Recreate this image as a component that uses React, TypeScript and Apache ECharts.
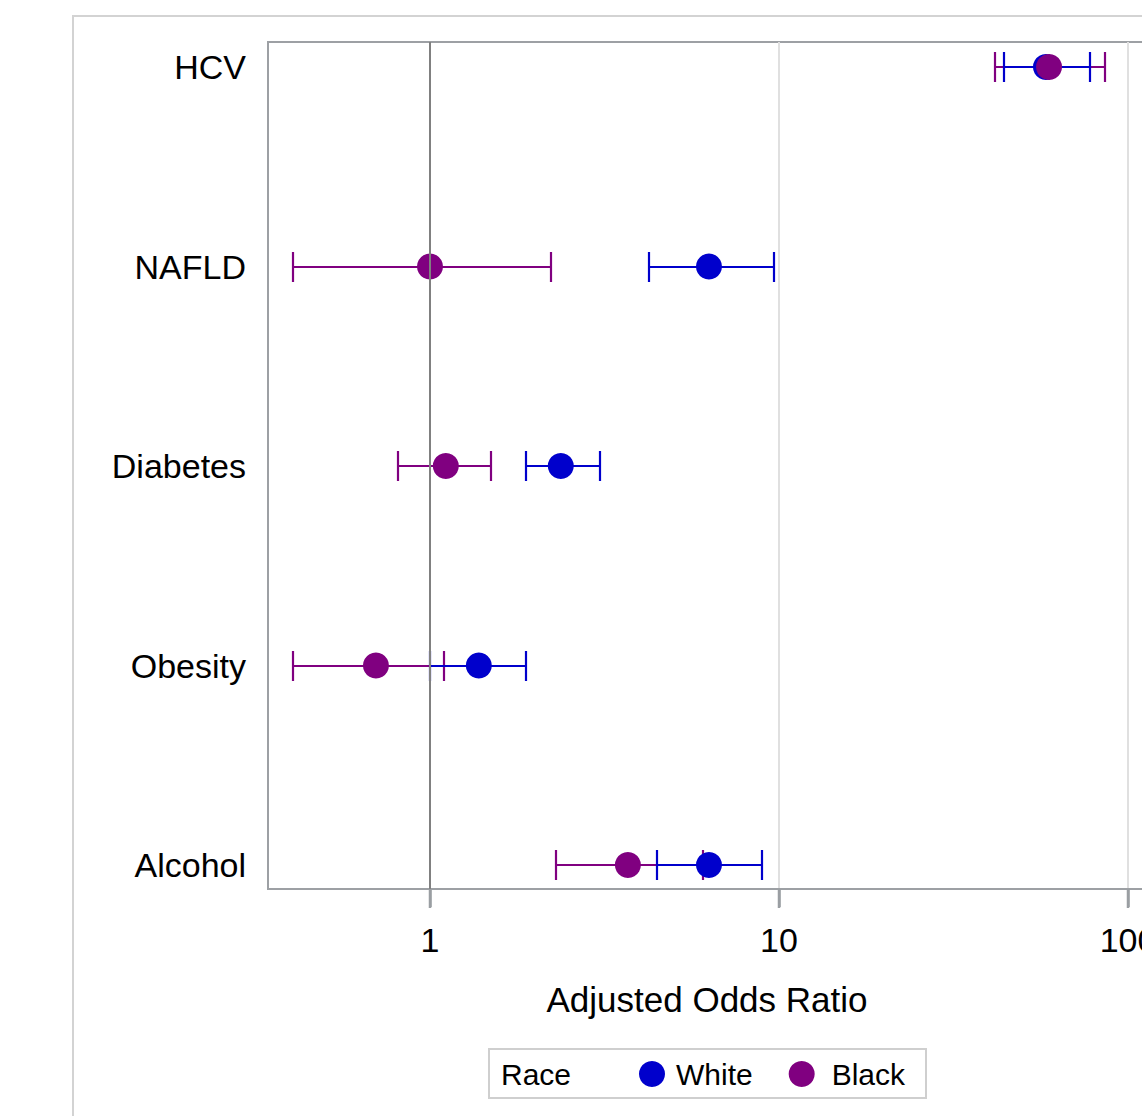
import React, { useEffect, useRef } from "react";
import * as echarts from "echarts";

const categories = ["HCV", "NAFLD", "Diabetes", "Obesity", "Alcohol"];
const whiteOR = [58.2, 6.3, 2.37, 1.38, 6.3];
const whiteLo = [44.1, 4.24, 1.88, 1.0, 4.47];
const whiteHi = [77.8, 9.68, 3.07, 1.88, 8.94];
const blackOR = [59.4, 1.0, 1.11, 0.7, 3.69];
const blackLo = [41.6, 0.405, 0.81, 0.405, 2.3];
const blackHi = [85.9, 2.22, 1.5, 1.1, 6.06];
const xTickValues = [1, 10, 100];
const seriesNames = ["White", "Black"];
const legendTitle = "Race";
const xTitle = "Adjusted Odds Ratio";

const FONT = "'Liberation Sans', Arial, sans-serif";
const BLUE = "#0000cc";
const PURPLE = "#800080";

export default function App() {
  const ref = useRef<HTMLDivElement>(null);
  useEffect(() => {
    if (!ref.current) return;
    const chart = echarts.init(ref.current, undefined, { renderer: "svg" });
    const L = Math.log10;
    const gridLeft = 268;
    const gridTop = 42;
    const gridBottomY = 889;
    const pxPerDecade = 349;
    const oneX = 430;
    const gridRightX = 1146;
    const xMin = (gridLeft - oneX) / pxPerDecade;
    const xMax = (gridRightX - oneX) / pxPerDecade;
    const unit = 199.5;
    const yMin = -(67 - gridTop) / unit;
    const yMax = 4 + (gridBottomY - 865) / unit;

    const barData = (lo: number[], hi: number[]) =>
      categories.map((_, i) => [L(lo[i]), L(hi[i]), i]);
    const ptData = (v: number[]) => categories.map((_, i) => [L(v[i]), i]);

    const renderBar = (color: string) => (params: any, api: any) => {
      const a = api.coord([api.value(0), api.value(2)]);
      const b = api.coord([api.value(1), api.value(2)]);
      const x1 = Math.round(a[0]);
      const x2 = Math.round(b[0]);
      const y = Math.round(a[1]);
      const h = 15;
      const style = { stroke: color, lineWidth: 2.2 };
      return {
        type: "group",
        children: [
          { type: "line", shape: { x1, y1: y, x2, y2: y }, style },
          { type: "line", shape: { x1, y1: y - h, x2: x1, y2: y + h }, style },
          { type: "line", shape: { x1: x2, y1: y - h, x2, y2: y + h }, style },
        ],
      };
    };

    const baseGraphic: any[] = [
      {
        type: "rect",
        shape: { x: 73, y: 16, width: 1200, height: 1200 },
        style: { fill: "none", stroke: "#d3d3d3", lineWidth: 2 },
        silent: true,
        z: -10,
      },
      {
        type: "rect",
        shape: { x: 489, y: 1049, width: 437, height: 49 },
        style: { fill: "none", stroke: "#cfcfcf", lineWidth: 2 },
        silent: true,
      },
      {
        type: "text",
        x: 501,
        y: 1074,
        style: {
          text: legendTitle,
          fontSize: 30,
          fill: "#000",
          fontFamily: FONT,
          verticalAlign: "middle",
        },
        silent: true,
      },
    ];

    const option: any = {
      animation: false,
      backgroundColor: "#ffffff",
      textStyle: { fontFamily: FONT },
      grid: {
        left: gridLeft,
        top: gridTop,
        width: gridRightX - gridLeft,
        height: gridBottomY - gridTop,
        show: true,
        borderColor: "#9da0a4",
        borderWidth: 2,
        backgroundColor: "transparent",
      },
      xAxis: {
        type: "value",
        position: "bottom",
        min: xMin,
        max: xMax,
        name: xTitle,
        nameLocation: "middle",
        nameGap: 93,
        nameTextStyle: { fontSize: 35, color: "#000", fontFamily: FONT },
        axisLine: { show: true, onZero: false, lineStyle: { color: "#9da0a4", width: 2 } },
        axisTick: {
          show: true,
          length: 18,
          customValues: xTickValues.map(L),
          lineStyle: { color: "#9a9ea2", width: 2.5 },
        },
        axisLabel: {
          customValues: xTickValues.map(L),
          formatter: (v: number) => String(Math.round(Math.pow(10, v))),
          fontSize: 34,
          color: "#000",
          margin: 34,
          fontFamily: FONT,
        },
        splitLine: { show: true, lineStyle: { color: "#e0e0e0", width: 2 } },
      },
      yAxis: {
        type: "value",
        inverse: true,
        min: yMin,
        max: yMax,
        axisLine: { show: false, onZero: false },
        axisTick: { show: false, customValues: [0, 1, 2, 3, 4] },
        splitLine: { show: false },
        axisLabel: {
          customValues: [0, 1, 2, 3, 4],
          formatter: (v: number) => categories[Math.round(v)] ?? "",
          fontSize: 34,
          color: "#000",
          margin: 22,
          fontFamily: FONT,
        },
      },
      legend: {
        left: 634,
        top: 1054,
        itemWidth: 26,
        itemHeight: 26,
        itemGap: 36,
        icon: "circle",
        data: [
          { name: seriesNames[0], textStyle: { padding: [0, 0, 0, 6] } },
          { name: seriesNames[1], textStyle: { padding: [0, 0, 0, 12] } },
        ],
        textStyle: { fontSize: 30, color: "#000", fontFamily: FONT },
      },
      graphic: baseGraphic,
      series: [
        {
          type: "custom",
          name: "BlackCI",
          z: 2,
          renderItem: renderBar(PURPLE),
          encode: { x: [0, 1], y: 2 },
          data: barData(blackLo, blackHi),
          silent: true,
        },
        {
          type: "custom",
          name: "WhiteCI",
          z: 3,
          renderItem: renderBar(BLUE),
          encode: { x: [0, 1], y: 2 },
          data: barData(whiteLo, whiteHi),
          silent: true,
        },
        {
          type: "scatter",
          name: seriesNames[0],
          z: 4,
          symbol: "circle",
          symbolSize: 26,
          itemStyle: { color: BLUE, opacity: 1 },
          data: ptData(whiteOR),
        },
        {
          type: "scatter",
          name: seriesNames[1],
          z: 5,
          symbol: "circle",
          symbolSize: 26,
          itemStyle: { color: PURPLE, opacity: 1 },
          data: ptData(blackOR),
          markLine: {
            silent: true,
            symbol: "none",
            z: 10,
            label: { show: false },
            lineStyle: { color: "#808080", width: 2, type: "solid" },
            data: [{ xAxis: 0 }],
          },
        },
      ],
    };
    chart.setOption(option);

    // Tick marks below the axis, placed through the axis's own scale.
    const tickGraphics = xTickValues.map((v) => {
      const px = Math.round(chart.convertToPixel({ xAxisIndex: 0 }, L(v)) as number);
      const py = Math.round(chart.convertToPixel({ yAxisIndex: 0 }, yMax) as number);
      return {
        type: "line",
        shape: { x1: px, y1: py + 1, x2: px, y2: py + 19 },
        style: { stroke: "#9a9ea2", lineWidth: 2.5 },
        silent: true,
        z: 50,
      };
    });
    chart.setOption({ graphic: [...baseGraphic, ...tickGraphics] });

    return () => chart.dispose();
  }, []);

  return (
    <div
      style={{
        position: "fixed",
        left: 0,
        top: 0,
        width: 1142,
        height: 1116,
        overflow: "hidden",
        background: "#fff",
      }}
    >
      <div ref={ref} style={{ width: 1180, height: 1116 }} />
    </div>
  );
}
